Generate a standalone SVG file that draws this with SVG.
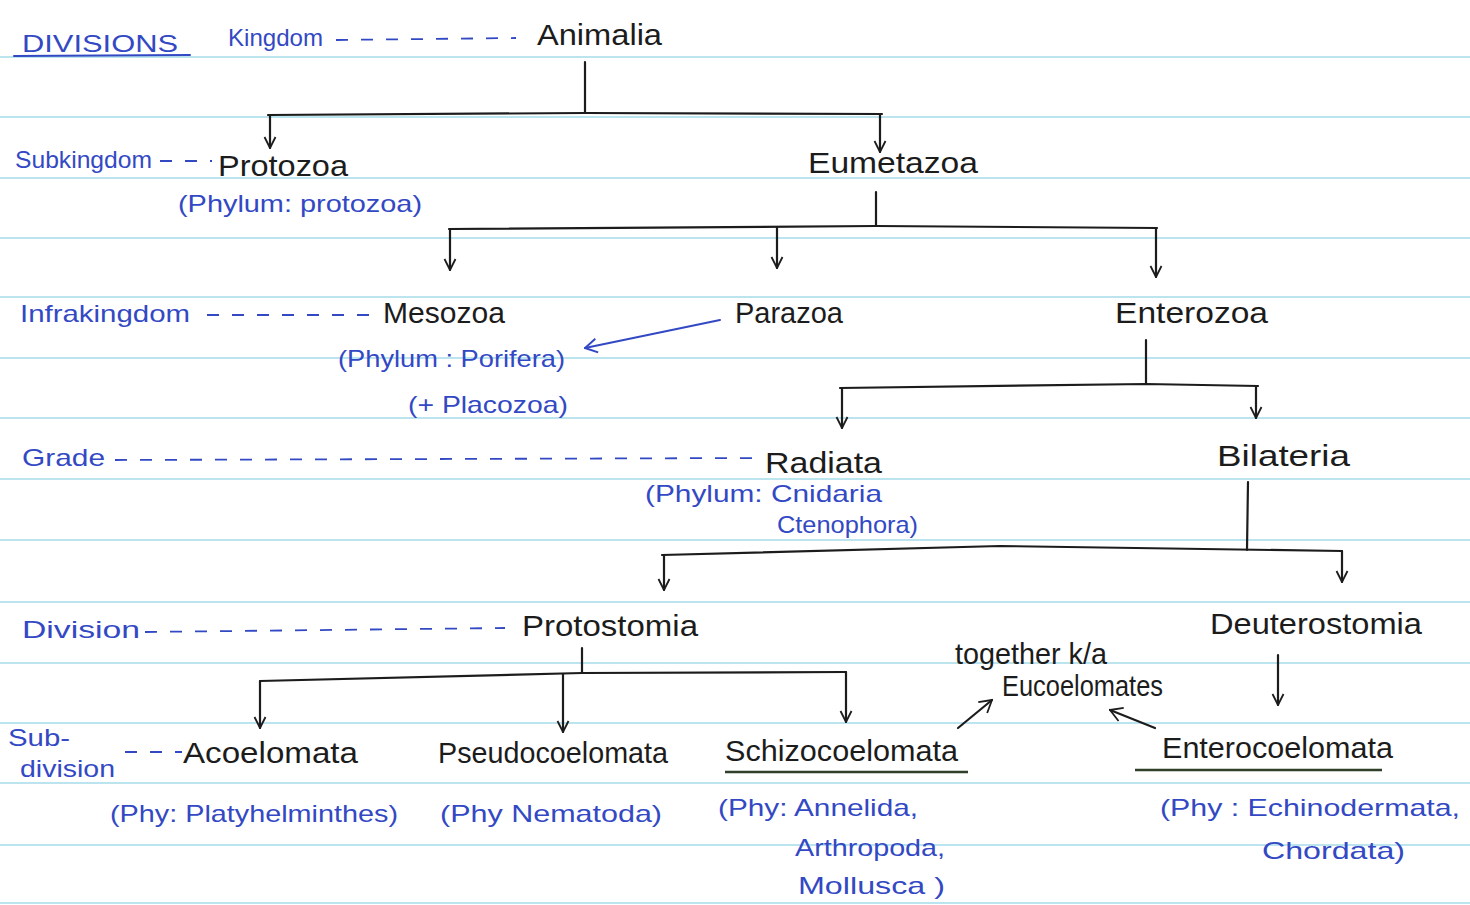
<svg xmlns="http://www.w3.org/2000/svg" width="1470" height="905" viewBox="0 0 1470 905">
<defs>
<style>
.rule{stroke:#a6dbe9;stroke-width:1.6}
.t{font-family:"Liberation Sans",Arial,sans-serif;fill:#1c1c1c;font-size:29px}
.b{font-family:"Liberation Sans",Arial,sans-serif;fill:#3349c4;font-size:24px}
.ln{stroke:#1c1c1c;stroke-width:2.2;fill:none;stroke-linecap:round}
.bl{stroke:#3349c4;stroke-width:2;fill:none;stroke-linecap:round}
.dash{stroke:#3349c4;stroke-width:1.8;fill:none;stroke-dasharray:12 13}
</style>
<marker id="ah" viewBox="0 0 14 14" refX="13" refY="7" markerWidth="14" markerHeight="14" markerUnits="userSpaceOnUse" orient="auto">
<path d="M2,1.5 L13,7 L2,12.5" fill="none" stroke="#1c1c1c" stroke-width="1.8"/>
</marker>
<marker id="ahs" viewBox="0 0 16 16" refX="15" refY="8" markerWidth="16" markerHeight="16" markerUnits="userSpaceOnUse" orient="auto">
<path d="M3,1 L15,8 L3,15" fill="none" stroke="#3349c4" stroke-width="2"/>
</marker>
<marker id="aht" viewBox="0 0 16 16" refX="15" refY="8" markerWidth="16" markerHeight="16" markerUnits="userSpaceOnUse" orient="auto">
<path d="M3,1 L15,8 L3,15" fill="none" stroke="#1c1c1c" stroke-width="1.8"/>
</marker>
</defs>
<rect width="1470" height="905" fill="#ffffff"/>
<g id="ruling">
<line class="rule" x1="0" y1="57" x2="1470" y2="57"/>
<line class="rule" x1="0" y1="117" x2="1470" y2="117"/>
<line class="rule" x1="0" y1="178" x2="1470" y2="178"/>
<line class="rule" x1="0" y1="238" x2="1470" y2="238"/>
<line class="rule" x1="0" y1="297" x2="1470" y2="297"/>
<line class="rule" x1="0" y1="358" x2="1470" y2="358"/>
<line class="rule" x1="0" y1="418" x2="1470" y2="418"/>
<line class="rule" x1="0" y1="479" x2="1470" y2="479"/>
<line class="rule" x1="0" y1="540" x2="1470" y2="540"/>
<line class="rule" x1="0" y1="602" x2="1470" y2="602"/>
<line class="rule" x1="0" y1="663" x2="1470" y2="663"/>
<line class="rule" x1="0" y1="723" x2="1470" y2="723"/>
<line class="rule" x1="0" y1="783" x2="1470" y2="783"/>
<line class="rule" x1="0" y1="845" x2="1470" y2="845"/>
<line class="rule" x1="0" y1="903" x2="1470" y2="903"/>
</g>
<g id="rank-labels">
<text class="b" x="22" y="52" textLength="156" lengthAdjust="spacingAndGlyphs" font-size="27">DIVISIONS</text>
<path class="bl" d="M14,56 L190,55"/>
<text class="b" x="228" y="46" textLength="95" lengthAdjust="spacingAndGlyphs">Kingdom</text>
<path class="dash" d="M336,40 L516,38"/>
<text class="b" x="15" y="168" textLength="137" lengthAdjust="spacingAndGlyphs">Subkingdom</text>
<path class="dash" d="M160,161 L212,161" stroke-dasharray="7 7"/>
<text class="b" x="20" y="322" textLength="170" lengthAdjust="spacingAndGlyphs">Infrakingdom</text>
<path class="dash" d="M207,315 L378,315"/>
<text class="b" x="22" y="466" textLength="83" lengthAdjust="spacingAndGlyphs">Grade</text>
<path class="dash" d="M115,460 L762,458"/>
<text class="b" x="22" y="638" textLength="118" lengthAdjust="spacingAndGlyphs">Division</text>
<path class="dash" d="M145,632 L505,628"/>
<text class="b" x="8" y="746" textLength="62" lengthAdjust="spacingAndGlyphs">Sub-</text>
<text class="b" x="20" y="777" textLength="95" lengthAdjust="spacingAndGlyphs">division</text>
<path class="dash" d="M125,752 L182,752" stroke-dasharray="8 7"/>
</g>
<g id="connectors">
<path class="ln" d="M585,62 L585,113"/>
<path class="ln" d="M268,115 L585,113 L882,114"/>
<path class="ln" d="M270,115 L270,148" marker-end="url(#ah)"/>
<path class="ln" d="M880,114 L880,152" marker-end="url(#ah)"/>
<path class="ln" d="M876,192 L876,226"/>
<path class="ln" d="M449,229 L876,226 L1157,228"/>
<path class="ln" d="M450,229 L450,270" marker-end="url(#ah)"/>
<path class="ln" d="M777,227 L777,268" marker-end="url(#ah)"/>
<path class="ln" d="M1156,228 L1156,277" marker-end="url(#ah)"/>
<path class="bl" d="M720,320 L585,348" marker-end="url(#ahs)"/>
<path class="ln" d="M1146,340 L1146,383"/>
<path class="ln" d="M840,388 L1146,384 L1258,386"/>
<path class="ln" d="M842,388 L842,428" marker-end="url(#ah)"/>
<path class="ln" d="M1256,386 L1256,418" marker-end="url(#ah)"/>
<path class="ln" d="M1248,482 L1247,550"/>
<path class="ln" d="M662,555 L1000,546 L1342,551"/>
<path class="ln" d="M664,555 L664,590" marker-end="url(#ah)"/>
<path class="ln" d="M1342,551 L1342,582" marker-end="url(#ah)"/>
<path class="ln" d="M582,648 L582,672"/>
<path class="ln" d="M260,681 L582,673 L846,672"/>
<path class="ln" d="M260,681 L260,728" marker-end="url(#ah)"/>
<path class="ln" d="M563,674 L563,732" marker-end="url(#ah)"/>
<path class="ln" d="M846,672 L846,722" marker-end="url(#ah)"/>
<path class="ln" d="M1278,655 L1278,705" marker-end="url(#ah)"/>
<path class="ln" d="M958,728 L992,700" marker-end="url(#aht)"/>
<path class="ln" d="M1155,728 L1110,710" marker-end="url(#aht)"/>
</g>
<g id="animalia"><text class="t" x="537" y="45" textLength="125" lengthAdjust="spacingAndGlyphs">Animalia</text></g>
<g id="protozoa">
<text class="t" x="218" y="176" textLength="130" lengthAdjust="spacingAndGlyphs">Protozoa</text>
<text class="b" x="178" y="212" textLength="244" lengthAdjust="spacingAndGlyphs">(Phylum: protozoa)</text>
</g>
<g id="eumetazoa"><text class="t" x="808" y="173" textLength="170" lengthAdjust="spacingAndGlyphs">Eumetazoa</text></g>
<g id="mesozoa">
<text class="t" x="383" y="323" textLength="122" lengthAdjust="spacingAndGlyphs">Mesozoa</text>
<text class="b" x="338" y="367" textLength="227" lengthAdjust="spacingAndGlyphs">(Phylum : Porifera)</text>
<text class="b" x="408" y="413" textLength="160" lengthAdjust="spacingAndGlyphs">(+ Placozoa)</text>
</g>
<g id="parazoa"><text class="t" x="735" y="323" textLength="108" lengthAdjust="spacingAndGlyphs">Parazoa</text></g>
<g id="enterozoa"><text class="t" x="1115" y="323" textLength="153" lengthAdjust="spacingAndGlyphs">Enterozoa</text></g>
<g id="radiata">
<text class="t" x="765" y="473" textLength="117" lengthAdjust="spacingAndGlyphs">Radiata</text>
<text class="b" x="645" y="502" textLength="237" lengthAdjust="spacingAndGlyphs">(Phylum: Cnidaria</text>
<text class="b" x="777" y="533" textLength="141" lengthAdjust="spacingAndGlyphs">Ctenophora)</text>
</g>
<g id="bilateria"><text class="t" x="1217" y="466" textLength="133" lengthAdjust="spacingAndGlyphs">Bilateria</text></g>
<g id="protostomia"><text class="t" x="522" y="636" textLength="176" lengthAdjust="spacingAndGlyphs">Protostomia</text></g>
<g id="deuterostomia"><text class="t" x="1210" y="634" textLength="212" lengthAdjust="spacingAndGlyphs">Deuterostomia</text></g>
<g id="acoelomata">
<text class="t" x="183" y="763" textLength="175" lengthAdjust="spacingAndGlyphs">Acoelomata</text>
<text class="b" x="110" y="822" textLength="288" lengthAdjust="spacingAndGlyphs">(Phy: Platyhelminthes)</text>
</g>
<g id="pseudocoelomata">
<text class="t" x="438" y="763" textLength="230" lengthAdjust="spacingAndGlyphs">Pseudocoelomata</text>
<text class="b" x="440" y="822" textLength="222" lengthAdjust="spacingAndGlyphs">(Phy Nematoda)</text>
</g>
<g id="schizocoelomata">
<text class="t" x="725" y="761" textLength="233" lengthAdjust="spacingAndGlyphs">Schizocoelomata</text>
<path d="M725,772 L968,772" stroke="#2f3f2a" stroke-width="2.4" fill="none"/>
<text class="b" x="718" y="816" textLength="200" lengthAdjust="spacingAndGlyphs">(Phy: Annelida,</text>
<text class="b" x="795" y="856" textLength="150" lengthAdjust="spacingAndGlyphs">Arthropoda,</text>
<text class="b" x="798" y="894" textLength="147" lengthAdjust="spacingAndGlyphs">Mollusca )</text>
</g>
<g id="eucoelomates">
<text class="t" x="955" y="664" textLength="152" lengthAdjust="spacingAndGlyphs" font-size="25">together k/a</text>
<text class="t" x="1002" y="696" textLength="161" lengthAdjust="spacingAndGlyphs" font-size="25">Eucoelomates</text>
</g>
<g id="enterocoelomata">
<text class="t" x="1162" y="758" textLength="231" lengthAdjust="spacingAndGlyphs">Enterocoelomata</text>
<path d="M1135,770 L1382,770" stroke="#2f3f2a" stroke-width="2.4" fill="none"/>
<text class="b" x="1160" y="816" textLength="300" lengthAdjust="spacingAndGlyphs">(Phy : Echinodermata,</text>
<text class="b" x="1262" y="859" textLength="143" lengthAdjust="spacingAndGlyphs">Chordata)</text>
</g>
</svg>
